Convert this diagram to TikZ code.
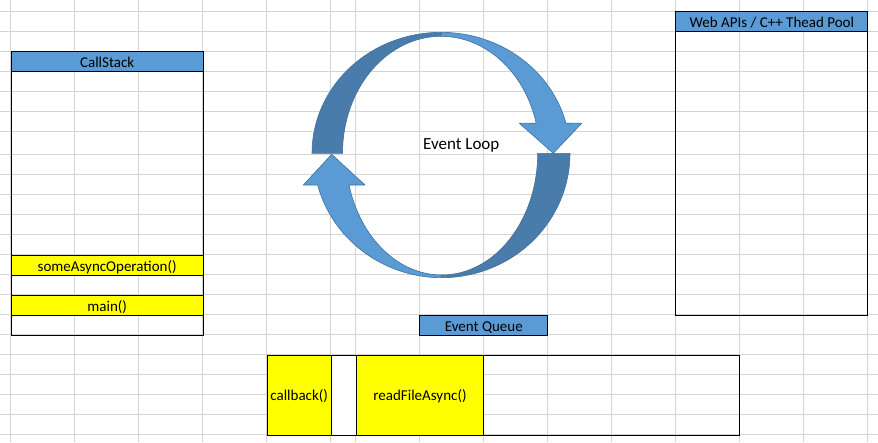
\documentclass[tikz,border=0pt]{standalone}
\usepackage{fontspec}
\setmainfont{Carlito}
\definecolor{hdrblue}{HTML}{5B9BD5}
\definecolor{arrlight}{HTML}{5B9BD5}
\definecolor{arrdark}{HTML}{497CAA}
\definecolor{arrline}{HTML}{41719C}
\definecolor{gridgray}{HTML}{D4D4D4}
\definecolor{cellyellow}{HTML}{FFFF00}
\begin{document}
\begin{tikzpicture}[x=1pt,y=-1pt,
  cellbox/.style={draw=black,line width=1pt,inner sep=0pt,anchor=north west,
    font=\fontsize{15}{18}\selectfont,text height=16pt,text depth=4pt},
  hdr/.style={cellbox,fill=hdrblue},
  ylw/.style={cellbox,fill=cellyellow},
  tallcell/.style={text height=44.8pt,text depth=35.2pt},
  gridline/.style={draw=gridgray,line width=1pt},
  arrowdark/.style={fill=arrdark,draw=arrline,line width=0.6pt,line join=round},
  arrowlight/.style={fill=arrlight,draw=arrline,line width=0.6pt,line join=round}]
\useasboundingbox (0,0) rectangle (878,442);
\fill[white] (0,0) rectangle (878,442);
% spreadsheet grid
\foreach \gx in {10.7,74.7,138.7,202.7,266.7,330.7,355.7,419.3,483.3,547.3,611.3,675.3,739.3,803.3,867.3}
  \draw[gridline] (\gx,0) -- (\gx,442);
\foreach \gy in {11.3,31.3,51.3,71.3,91.3,111.3,131.3,154.7,174.7,194.7,214.7,234.7,254.7,274.7,294.7,314.7,334.7,354.7,374.7,394.7,414.7,434.7}
  \draw[gridline] (0,\gy) -- (878,\gy);

% Call stack
\node[hdr,minimum width=192pt,minimum height=20pt] (cshead) at (10.7,51.3) {CallStack};
\node[cellbox,minimum width=192pt,minimum height=183.4pt] (csbody) at (10.7,71.3) {};
\node[ylw,minimum width=192pt,minimum height=20pt] (someasync) at (10.7,254.7) {someAsyncOperation()};
\node[cellbox,minimum width=192pt,minimum height=20pt] (csgap) at (10.7,274.7) {};
\node[ylw,minimum width=192pt,minimum height=20pt] (mainfn) at (10.7,294.7) {main()};
\node[cellbox,minimum width=192pt,minimum height=20pt] (csbottom) at (10.7,314.7) {};

% Web APIs
\node[hdr,minimum width=192pt,minimum height=20pt] (webhead) at (675.3,11.3) {Web APIs / C++ Thead Pool};
\node[cellbox,minimum width=192pt,minimum height=283.4pt] (webbody) at (675.3,31.3) {};

% Event queue
\node[hdr,minimum width=128pt,minimum height=20pt] (eqhead) at (419.3,314.7) {Event Queue};
\node[ylw,tallcell,minimum width=64pt,minimum height=80pt] (cb) at (266.7,354.7) {callback()};
\node[cellbox,fill=white,minimum width=25pt,minimum height=80pt] (qgap) at (330.7,354.7) {};
\node[ylw,tallcell,minimum width=127.6pt,minimum height=80pt] (rfa) at (355.7,354.7) {readFileAsync()};
\node[cellbox,minimum width=256pt,minimum height=80pt] (qrest) at (483.3,354.7) {};

% Event loop arrows
\path[arrowdark] plot[domain=180:270,samples=40] ({441+129*cos(\x)},{153.3+121*sin(\x)})
  -- plot[domain=270:180,samples=40] ({441+98.5*cos(\x)},{153.3+117*sin(\x)}) -- cycle;
\path[arrowlight] plot[domain=270:345.6,samples=40] ({441+129*cos(\x)},{153.3+121*sin(\x)})
  -- (581.7,123.3) -- (553.3,153.3) -- (519.3,123.3)
  -- plot[domain=345.1:270,samples=40] ({441+98.5*cos(\x)},{153.3+117*sin(\x)}) -- cycle;
\path[arrowdark] plot[domain=0:90,samples=40] ({441.7+128.3*cos(\x)},{153.3+124.4*sin(\x)})
  -- plot[domain=90:0,samples=40] ({441.7+96*cos(\x)},{153.3+121.7*sin(\x)}) -- cycle;
\path[arrowlight] plot[domain=90:165.2,samples=40] ({441.7+128.3*cos(\x)},{153.3+124.4*sin(\x)})
  -- (303.3,185) -- (331.7,154.3) -- (365,185)
  -- plot[domain=164.9:90,samples=40] ({441.7+96*cos(\x)},{153.3+121.7*sin(\x)}) -- cycle;
\node[anchor=base,inner sep=0pt,font=\fontsize{17}{20}\selectfont] (looplabel) at (461.3,149.3) {Event Loop};
\end{tikzpicture}
\end{document}
